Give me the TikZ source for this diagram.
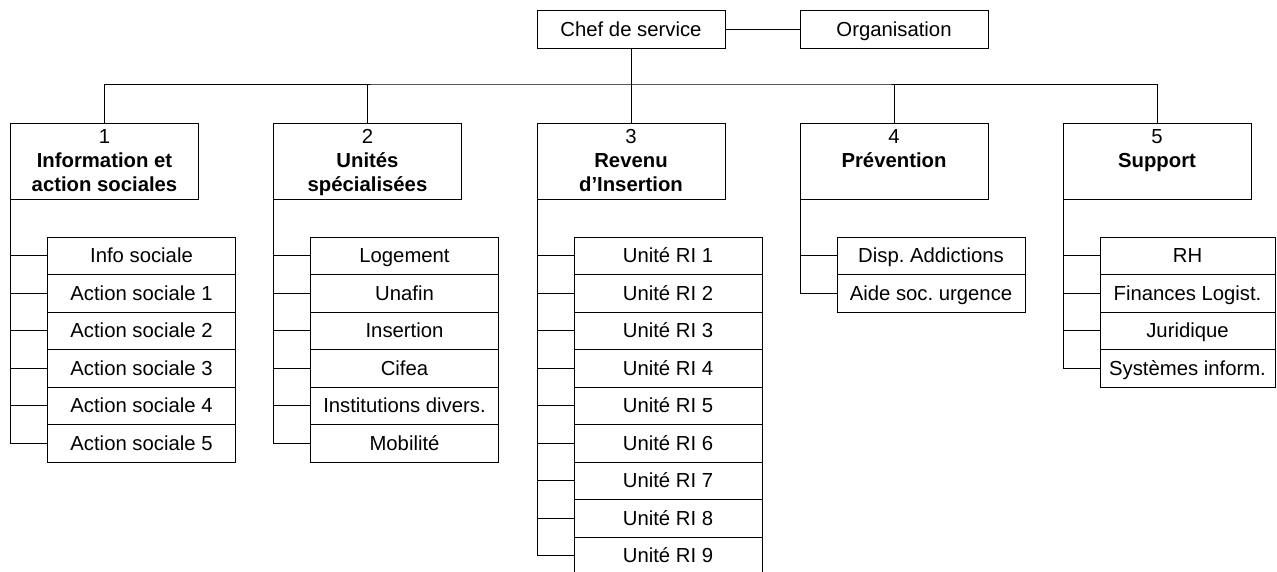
\documentclass[tikz,border=0pt]{standalone}
\usepackage{fontspec}
\setmainfont{Liberation Sans}
\usepackage{tikz}
\usetikzlibrary{positioning}

\frenchspacing
\newcommand{\topstrut}{\rule{0pt}{17pt}}
\newcommand{\botstrut}{\rule[-4.6pt]{0pt}{16pt}}

\begin{document}
\begin{tikzpicture}[x=1pt, y=-1pt, line width=0.9pt,
  font=\fontsize{20.3}{24}\selectfont,
  box/.style={draw, outer sep=0pt, inner sep=0pt, minimum width=188pt, minimum height=38pt,
    text height=16pt, text depth=2pt},
  head/.style={draw, outer sep=0pt, inner sep=0pt, minimum width=188pt, minimum height=76pt,
    align=center},
  sub/.style={box, minimum height=37.5pt},
  subnarrow/.style={sub, minimum width=175pt},
  first/.style={anchor=north west, below right=38pt and 37pt of #1}]
\clip (0,0) rectangle (1277,571);
% top
\node[box] (chef) at (631,29) {Chef de service};
\node[box] (orga) at (894,29) {Organisation};
\coordinate (bus) at (631,84);
% departments
\node[head] (h1) at (104.5,161) {\topstrut1\\\strut\textbf{Information et}\\\botstrut\textbf{action sociales}};
\node[head] (h2) at (367.5,161) {\topstrut2\\\strut\textbf{Unités}\\\botstrut\textbf{spécialisées}};
\node[head] (h3) at (631,161) {\topstrut3\\\strut\textbf{Revenu}\\\botstrut\textbf{d’Insertion}};
\node[head] (h4) at (894,161) {\topstrut4\\\strut\textbf{Prévention}\\\botstrut};
\node[head] (h5) at (1157,161) {\topstrut5\\\strut\textbf{Support}\\\botstrut};
\draw (chef) -- (orga);
\draw (chef.south) -- (h3.north);
\draw (h1.north) |- (bus) -| (h5.north);
\draw (h2.north) -- (h2.north |- bus);
\draw (h4.north) -- (h4.north |- bus);

% 1
\node[sub, first=h1.south west] (s11) {Info sociale};
\node[sub, below=0pt of s11] (s12) {Action sociale 1};
\node[sub, below=0pt of s12] (s13) {Action sociale 2};
\node[sub, below=0pt of s13] (s14) {Action sociale 3};
\node[sub, below=0pt of s14] (s15) {Action sociale 4};
\node[sub, below=0pt of s15] (s16) {Action sociale 5};
\draw (h1.south west) |- (s16.west);
\draw (h1.south west |- s11.west) -- (s11.west);
\draw (h1.south west |- s12.west) -- (s12.west);
\draw (h1.south west |- s13.west) -- (s13.west);
\draw (h1.south west |- s14.west) -- (s14.west);
\draw (h1.south west |- s15.west) -- (s15.west);

% 2
\node[sub, first=h2.south west] (s21) {Logement};
\node[sub, below=0pt of s21] (s22) {Unafin};
\node[sub, below=0pt of s22] (s23) {Insertion};
\node[sub, below=0pt of s23] (s24) {Cifea};
\node[sub, below=0pt of s24] (s25) {Institutions divers.};
\node[sub, below=0pt of s25] (s26) {Mobilité};
\draw (h2.south west) |- (s26.west);
\draw (h2.south west |- s21.west) -- (s21.west);
\draw (h2.south west |- s22.west) -- (s22.west);
\draw (h2.south west |- s23.west) -- (s23.west);
\draw (h2.south west |- s24.west) -- (s24.west);
\draw (h2.south west |- s25.west) -- (s25.west);

% 3
\node[sub, first=h3.south west] (s31) {Unité RI 1};
\node[sub, below=0pt of s31] (s32) {Unité RI 2};
\node[sub, below=0pt of s32] (s33) {Unité RI 3};
\node[sub, below=0pt of s33] (s34) {Unité RI 4};
\node[sub, below=0pt of s34] (s35) {Unité RI 5};
\node[sub, below=0pt of s35] (s36) {Unité RI 6};
\node[sub, below=0pt of s36] (s37) {Unité RI 7};
\node[sub, below=0pt of s37] (s38) {Unité RI 8};
\node[sub, below=0pt of s38] (s39) {Unité RI 9};
\draw (h3.south west) |- (s39.west);
\draw (h3.south west |- s31.west) -- (s31.west);
\draw (h3.south west |- s32.west) -- (s32.west);
\draw (h3.south west |- s33.west) -- (s33.west);
\draw (h3.south west |- s34.west) -- (s34.west);
\draw (h3.south west |- s35.west) -- (s35.west);
\draw (h3.south west |- s36.west) -- (s36.west);
\draw (h3.south west |- s37.west) -- (s37.west);
\draw (h3.south west |- s38.west) -- (s38.west);

% 4
\node[sub, first=h4.south west] (s41) {Disp. Addictions};
\node[sub, below=0pt of s41] (s42) {Aide soc. urgence};
\draw (h4.south west) |- (s42.west);
\draw (h4.south west |- s41.west) -- (s41.west);

% 5
\node[subnarrow, first=h5.south west] (s51) {RH};
\node[subnarrow, below=0pt of s51] (s52) {Finances Logist.};
\node[subnarrow, below=0pt of s52] (s53) {Juridique};
\node[subnarrow, below=0pt of s53] (s54) {Systèmes inform.};
\draw (h5.south west) |- (s54.west);
\draw (h5.south west |- s51.west) -- (s51.west);
\draw (h5.south west |- s52.west) -- (s52.west);
\draw (h5.south west |- s53.west) -- (s53.west);
\end{tikzpicture}
\end{document}
